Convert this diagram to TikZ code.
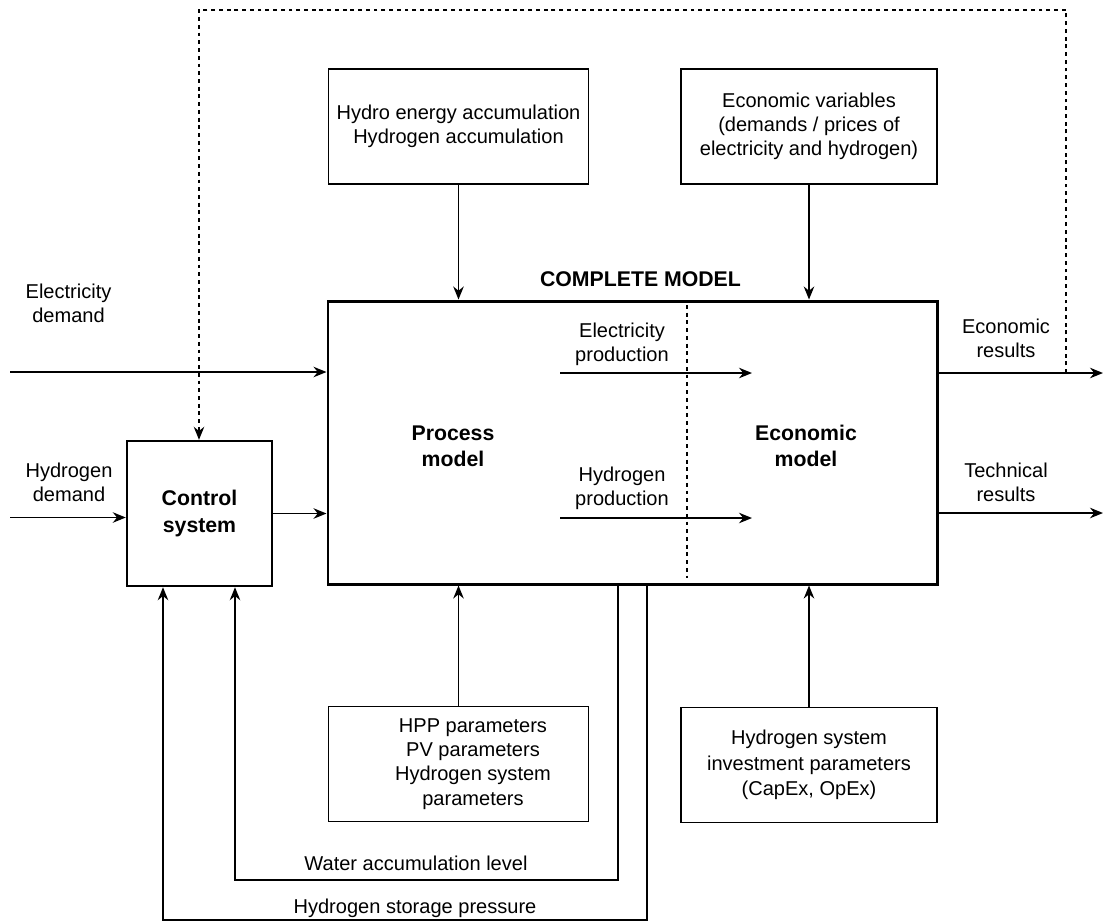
\documentclass[tikz,border=0pt]{standalone}
\usepackage{fontspec}
\setmainfont{Liberation Sans}
\usetikzlibrary{arrows.meta}

\begin{document}
\begin{tikzpicture}[every node/.style={align=center, inner sep=0pt, font=\fontsize{11.4}{13.8}\selectfont},
    box/.style={draw, line width=0.8pt, minimum width=5.2cm, minimum height=2.3cm},
    arr/.style={-{Stealth[length=2.6mm, width=2.1mm]}, line width=0.85pt},
    feedback/.style={line width=0.7pt, dash pattern=on 2.2pt off 2.2pt},
    title/.style={font=\fontsize{12.1}{15}\selectfont\bfseries}]
      \useasboundingbox (0, 0) rectangle (22.06, -18.46);

      \node[draw, line width=1.7pt, minimum width=12.18cm, minimum height=5.66cm] (1) at (12.65, -8.85) {};
      \node[draw, line width=1.4pt, minimum width=2.9cm, minimum height=2.9cm, title] (2) at (3.99, -10.27) {Control\\system};
      \node[box] (3) at (9.17, -2.53) {Hydro energy accumulation\\Hydrogen accumulation};
      \node[box, minimum width=5.12cm] (4) at (16.18, -2.53) {Economic variables\\(demands / prices of\\electricity and hydrogen)};
      \node[box] (5) at (9.17, -15.28) {};
      \node (6) at (9.46, -15.28) {HPP parameters\\PV parameters\\Hydrogen system\\parameters};
      \node[box, minimum width=5.12cm, font=\fontsize{11.4}{14.6}\selectfont] (7) at (16.18, -15.3) {Hydrogen system\\investment parameters\\(CapEx, OpEx)};

      \node[title] (8) at (12.81, -5.58) {COMPLETE MODEL};
      \node[title] (9) at (9.06, -8.92) {Process\\model};
      \node[title] (10) at (16.12, -8.92) {Economic\\model};
      \node (11) at (12.44, -6.88) {Electricity\\production};
      \node (12) at (12.44, -9.77) {Hydrogen\\production};
      \node (13) at (1.37, -6.06) {Electricity\\demand};
      \node (14) at (1.38, -9.65) {Hydrogen\\demand};
      \node (15) at (20.12, -6.76) {Economic\\results};
      \node (16) at (20.12, -9.64) {Technical\\results};
      \node (17) at (8.32, -17.26) {Water accumulation level};
      \node (18) at (8.3, -18.16) {Hydrogen storage pressure};

      \coordinate (ed) at (0.2, -7.44);
      \coordinate (hd) at (0.2, -10.35);
      \coordinate (eo) at (22.06, -7.46);
      \coordinate (to) at (22.06, -10.26);
      \coordinate (ep1) at (11.2, -7.46);
      \coordinate (ep2) at (15.04, -7.46);
      \coordinate (hp1) at (11.2, -10.36);
      \coordinate (hp2) at (15.04, -10.36);
      \coordinate (wl) at (12.36, -11.68);
      \coordinate (wc) at (4.7, -17.6);
      \coordinate (hl) at (12.94, -11.68);
      \coordinate (hc) at (3.26, -18.4);
      \coordinate (fb) at (21.32, -7.46);
      \coordinate (ft) at (3.98, -0.2);

      \draw[arr] (ed) -- (ed -| 1.west);
      \draw[arr] (hd) -- (hd -| 2.west);
      \draw[arr] (2.east) -- (2.east -| 1.west);
      \draw[arr] (3.south) -- (3.south |- 1.north);
      \draw[arr] (4.south) -- (4.south |- 1.north);
      \draw[arr] (5.north) -- (5.north |- 1.south);
      \draw[arr] (7.north) -- (7.north |- 1.south);
      \draw[arr] (eo -| 1.east) -- (eo);
      \draw[arr] (to -| 1.east) -- (to);
      \draw[arr] (ep1) -- (ep2);
      \draw[arr] (hp1) -- (hp2);
      \draw[arr] (wl) |- (wc) -- (wc |- 2.south);
      \draw[arr] (hl) |- (hc) -- (hc |- 2.south);
      \draw[feedback] (13.74, -6.1) -- (13.74, -11.56);
      \draw[feedback, -{Stealth[length=2.6mm, width=2.1mm]}] (fb) |- (ft) -- (ft |- 2.north);
    \end{tikzpicture}
\end{document}
